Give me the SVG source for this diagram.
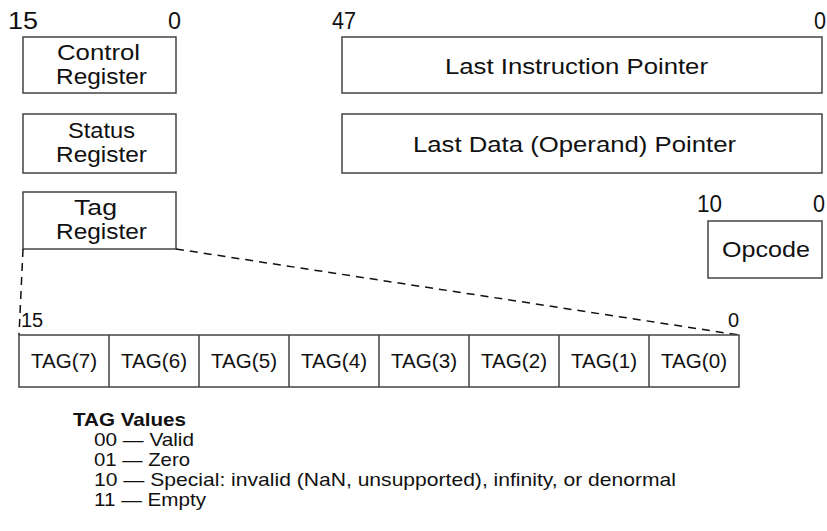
<svg xmlns="http://www.w3.org/2000/svg" width="827" height="531" viewBox="0 0 827 531">
<style>
text{font-family:"Liberation Sans",Arial,sans-serif;fill:#111}
.box{fill:#fff;stroke:#444;stroke-width:1.5}
.lbl{font-size:22px}
.wide{font-size:22px}
.num{font-size:23px}
.small{font-size:20px}
.cell{font-size:21px}
.leg{font-size:19px}
.dash{fill:none;stroke:#111;stroke-width:1.5;stroke-dasharray:8,6}
</style>
<rect width="827" height="531" fill="#fff"/>
<g id="bits-16">
<text class="num" x="8" y="29" textLength="30" lengthAdjust="spacingAndGlyphs">15</text>
<text class="num" x="168" y="29" textLength="13" lengthAdjust="spacingAndGlyphs">0</text>
</g>
<g id="control-register">
<rect class="box" x="23" y="37" width="153" height="56"/>
<text class="lbl" x="57" y="60" textLength="83" lengthAdjust="spacingAndGlyphs">Control</text>
<text class="lbl" x="56" y="84" textLength="91" lengthAdjust="spacingAndGlyphs">Register</text>
</g>
<g id="status-register">
<rect class="box" x="23" y="114" width="153" height="59"/>
<text class="lbl" x="68" y="138" textLength="67" lengthAdjust="spacingAndGlyphs">Status</text>
<text class="lbl" x="56" y="162" textLength="91" lengthAdjust="spacingAndGlyphs">Register</text>
</g>
<g id="tag-register">
<rect class="box" x="23" y="192" width="153" height="57"/>
<text class="lbl" x="74" y="215" textLength="43" lengthAdjust="spacingAndGlyphs">Tag</text>
<text class="lbl" x="56" y="239" textLength="91" lengthAdjust="spacingAndGlyphs">Register</text>
</g>
<g id="bits-48">
<text class="num" x="332" y="29" textLength="24" lengthAdjust="spacingAndGlyphs">47</text>
<text class="num" x="814" y="29" textLength="12" lengthAdjust="spacingAndGlyphs">0</text>
</g>
<g id="last-instruction-pointer">
<rect class="box" x="342" y="37" width="480" height="56"/>
<text class="wide" x="445" y="74" textLength="263" lengthAdjust="spacingAndGlyphs">Last Instruction Pointer</text>
</g>
<g id="last-data-pointer">
<rect class="box" x="342" y="114" width="480" height="59"/>
<text class="wide" x="413" y="152" textLength="323" lengthAdjust="spacingAndGlyphs">Last Data (Operand) Pointer</text>
</g>
<g id="opcode">
<text class="num" x="697" y="212" textLength="25" lengthAdjust="spacingAndGlyphs">10</text>
<text class="num" x="813" y="212" textLength="12" lengthAdjust="spacingAndGlyphs">0</text>
<rect class="box" x="708" y="221" width="114" height="57"/>
<text class="lbl" x="722" y="257" textLength="88" lengthAdjust="spacingAndGlyphs">Opcode</text>
</g>
<g id="connectors">
<line class="dash" x1="23" y1="249" x2="19" y2="335"/>
<line class="dash" x1="176" y1="249" x2="739" y2="335"/>
</g>
<g id="tag-word">
<text class="small" x="21" y="327">15</text>
<text class="small" x="728" y="327">0</text>
<rect class="box" x="19" y="335" width="720" height="52"/>
<path d="M109 335V387M199 335V387M289 335V387M379 335V387M469 335V387M559 335V387M649 335V387" stroke="#444" stroke-width="1.5"/>
<text class="cell" x="31" y="368" textLength="66" lengthAdjust="spacingAndGlyphs">TAG(7)</text>
<text class="cell" x="121" y="368" textLength="66" lengthAdjust="spacingAndGlyphs">TAG(6)</text>
<text class="cell" x="211" y="368" textLength="66" lengthAdjust="spacingAndGlyphs">TAG(5)</text>
<text class="cell" x="301" y="368" textLength="66" lengthAdjust="spacingAndGlyphs">TAG(4)</text>
<text class="cell" x="391" y="368" textLength="66" lengthAdjust="spacingAndGlyphs">TAG(3)</text>
<text class="cell" x="481" y="368" textLength="66" lengthAdjust="spacingAndGlyphs">TAG(2)</text>
<text class="cell" x="571" y="368" textLength="66" lengthAdjust="spacingAndGlyphs">TAG(1)</text>
<text class="cell" x="661" y="368" textLength="66" lengthAdjust="spacingAndGlyphs">TAG(0)</text>
</g>
<g id="legend">
<text class="leg" x="73" y="426" font-weight="bold" textLength="113" lengthAdjust="spacingAndGlyphs">TAG Values</text>
<text class="leg" x="94" y="446" textLength="100" lengthAdjust="spacingAndGlyphs">00 — Valid</text>
<text class="leg" x="94" y="466" textLength="96" lengthAdjust="spacingAndGlyphs">01 — Zero</text>
<text class="leg" x="94" y="486" textLength="582" lengthAdjust="spacingAndGlyphs">10 — Special: invalid (NaN, unsupported), infinity, or denormal</text>
<text class="leg" x="94" y="506" textLength="112" lengthAdjust="spacingAndGlyphs">11 — Empty</text>
</g>
</svg>
